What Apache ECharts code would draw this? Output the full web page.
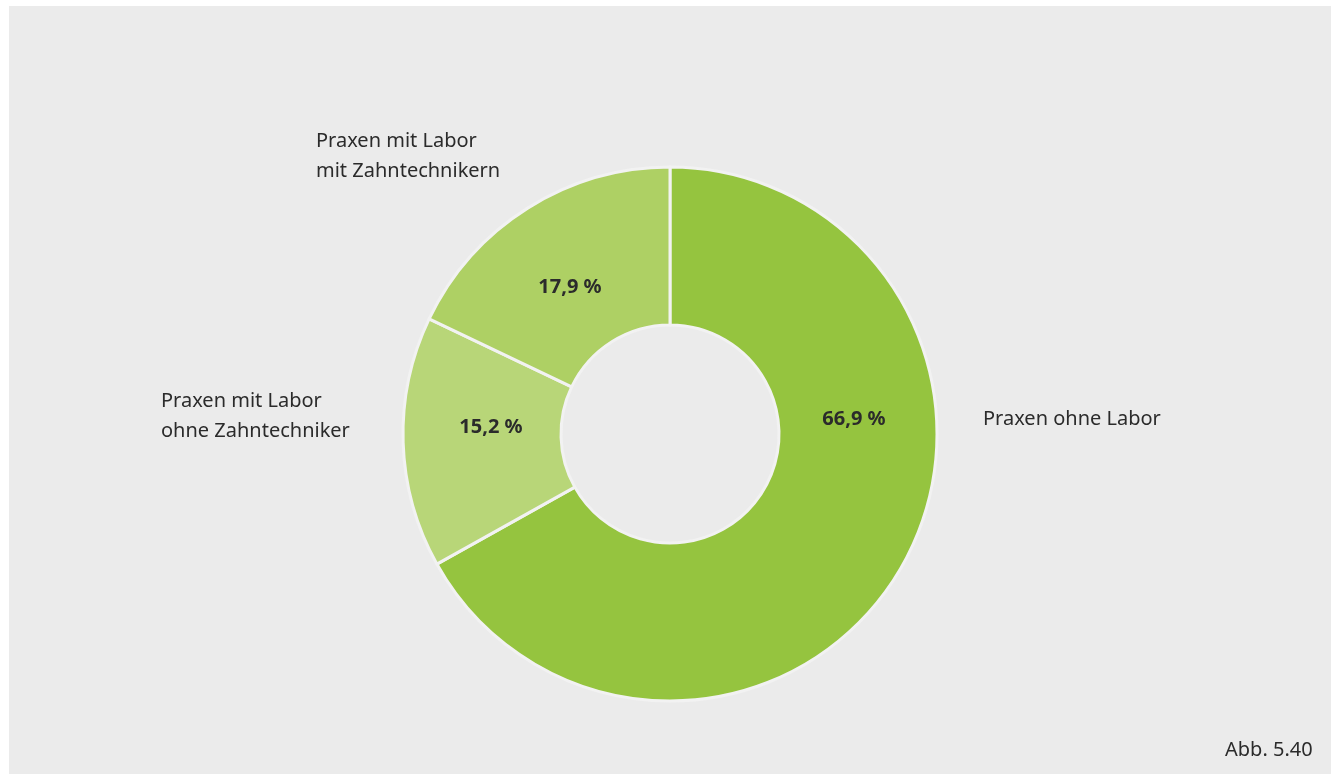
<!DOCTYPE html>
<html>
<head>
<meta charset="utf-8">
<script src="https://cdn.jsdelivr.net/npm/echarts@6/dist/echarts.min.js"></script>
<style>
  html, body { margin: 0; padding: 0; background: #ffffff; }
  #chart { width: 1331px; height: 774px; }
</style>
</head>
<body>
<div id="chart"></div>
<script>
// Anteile der Praxen nach Laborausstattung (in Prozent)
const categories = [
  'Praxen ohne Labor',
  'Praxen mit Labor\nohne Zahntechniker',
  'Praxen mit Labor\nmit Zahntechnikern'
];
const values = [66.9, 15.2, 17.9];
const sliceColors = ['#95c43f', '#b8d678', '#aed064'];
const figureLabel = 'Abb. 5.40';

// label anchor points (chart pixels) for the value labels and category labels
const valueLabelPos = [[854, 419], [491, 427], [570, 287]];
const nameLabelPos = [[983, 419], [161, 416], [316, 156]];

const fmt = v => v.toFixed(1).replace('.', ',') + ' %';

const pieData = categories.map((name, i) => ({
  name: name,
  value: values[i],
  itemStyle: { color: sliceColors[i] }
}));

const fontFamily = '"Noto Sans", "Open Sans", sans-serif';
const textColor = '#2b2b2b';

const chart = echarts.init(document.getElementById('chart'), null, { renderer: 'canvas' });
chart.setOption({
  backgroundColor: '#ffffff',
  animation: false,
  graphic: [
    { type: 'rect', z: -10, shape: { x: 9, y: 6, width: 1322, height: 768 }, style: { fill: '#ebebeb' } },
    { type: 'text', left: 1225, top: 740, style: { text: figureLabel, font: '20px ' + fontFamily, fill: textColor } }
  ],
  series: [
    {
      type: 'pie',
      center: [670, 434],
      radius: [109, 267],
      startAngle: 90,
      clockwise: true,
      data: pieData,
      itemStyle: { borderColor: '#f2f2f2', borderWidth: 3 },
      label: {
        position: 'inside',
        formatter: p => fmt(p.value),
        fontFamily: fontFamily,
        fontWeight: 'bold',
        fontSize: 20,
        color: textColor
      },
      labelLayout: p => ({
        x: valueLabelPos[p.dataIndex][0],
        y: valueLabelPos[p.dataIndex][1],
        align: 'center',
        verticalAlign: 'middle'
      }),
      emphasis: { disabled: true }
    },
    {
      type: 'pie',
      center: [670, 434],
      radius: [109, 267],
      startAngle: 90,
      clockwise: true,
      silent: true,
      data: categories.map((name, i) => ({ name: name, value: values[i] })),
      itemStyle: { color: 'rgba(0,0,0,0)', borderWidth: 0 },
      label: {
        position: 'outside',
        formatter: p => p.name,
        fontFamily: fontFamily,
        fontSize: 20,
        lineHeight: 30,
        color: textColor,
        align: 'left'
      },
      labelLine: { show: false },
      labelLayout: p => ({
        x: nameLabelPos[p.dataIndex][0],
        y: nameLabelPos[p.dataIndex][1],
        align: 'left',
        verticalAlign: 'middle'
      }),
      emphasis: { disabled: true }
    }
  ]
});
</script>
</body>
</html>
